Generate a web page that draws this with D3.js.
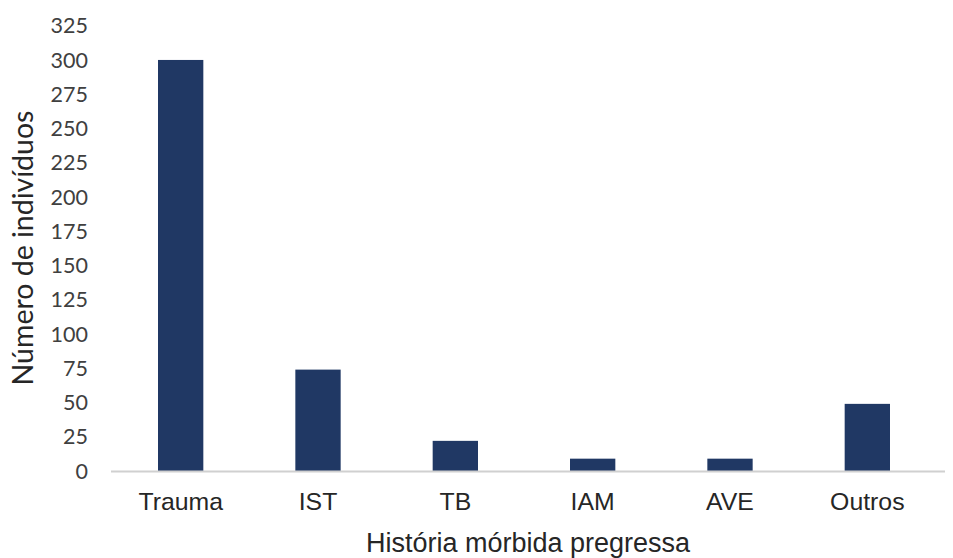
<!DOCTYPE html>
<html><head><meta charset="utf-8">
<script src="https://cdn.jsdelivr.net/npm/d3@7"></script>
<style>body{margin:0;background:#fff}</style>
</head><body>
<svg id="c" width="953" height="558"></svg>
<script>
const categories = ["Trauma", "IST", "TB", "IAM", "AVE", "Outros"];
const values = [300, 74, 22, 9, 9, 49];
const yTicks = [0, 25, 50, 75, 100, 125, 150, 175, 200, 225, 250, 275, 300, 325];
const xTitle = "História mórbida pregressa";
const yTitle = "Número de indivíduos";

const svg = d3.select("#c");
const x = d3.scaleBand().domain(categories).range([112, 936]).paddingInner(0.67).paddingOuter(0.335);
const y = d3.scaleLinear().domain([0, 325]).range([471, 25.7]);

// y tick labels
svg.append("g").selectAll("text").data(yTicks).join("text")
  .attr("x", 88).attr("y", d => y(d)).attr("dy", "0.36em")
  .attr("text-anchor", "end")
  .attr("font-family", "Lato, 'Open Sans', sans-serif").attr("font-size", 21.5)
  .attr("fill", "#404040").text(d => d);

// bars
svg.append("g").selectAll("rect").data(categories).join("rect")
  .attr("x", d => x(d)).attr("width", x.bandwidth())
  .attr("y", (d, i) => y(values[i])).attr("height", (d, i) => y(0) - y(values[i]))
  .attr("fill", "#203864");

// baseline
svg.append("line").attr("x1", 111).attr("x2", 945).attr("y1", y(0) + 0.5).attr("y2", y(0) + 0.5)
  .attr("stroke", "#d0d0d0").attr("stroke-width", 2);

// category labels
svg.append("g").selectAll("text").data(categories).join("text")
  .attr("x", d => x(d) + x.bandwidth() / 2).attr("y", 510)
  .attr("text-anchor", "middle")
  .attr("font-family", "'Liberation Sans', Arial, sans-serif").attr("font-size", 24.8)
  .attr("fill", "#262626").text(d => d);

// x title
svg.append("text").attr("x", 528).attr("y", 552).attr("text-anchor", "middle")
  .attr("font-family", "'Liberation Sans', Arial, sans-serif").attr("font-size", 27)
  .attr("fill", "#262626").text(xTitle);

// y title
svg.append("text").attr("transform", "translate(33,248) rotate(-90)")
  .attr("text-anchor", "middle")
  .attr("font-family", "Lato, 'Open Sans', sans-serif").attr("font-size", 28.5)
  .attr("fill", "#262626").text(yTitle);
</script>
</body></html>
